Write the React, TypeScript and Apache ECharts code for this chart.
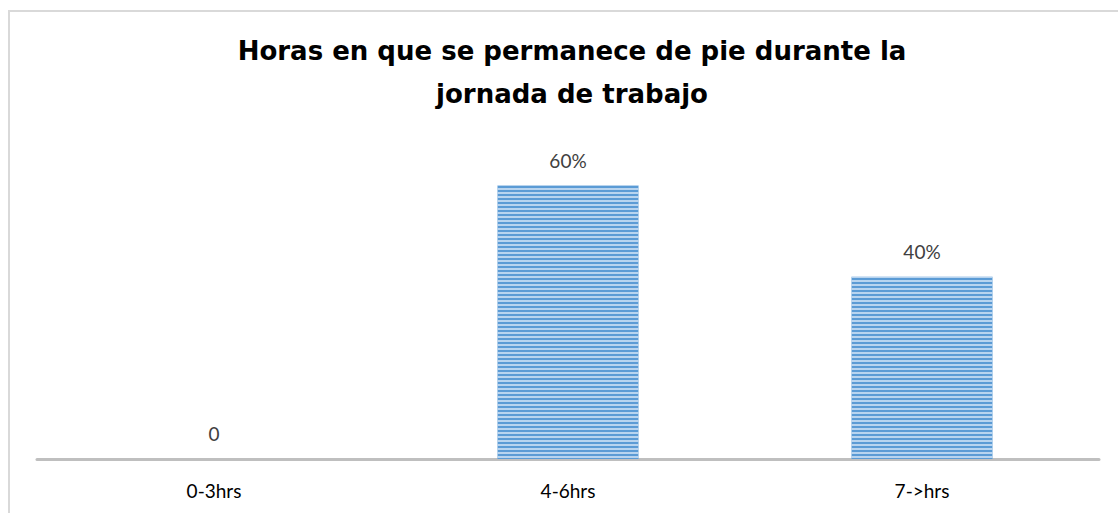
import React, { useEffect, useRef } from "react";
import * as echarts from "echarts";

const categories = ["0-3hrs", "4-6hrs", "7->hrs"];
const values = [0, 60, 40];
const titleText = "Horas en que se permanece de pie durante la\njornada de trabajo";

export default function App() {
  const ref = useRef<HTMLDivElement>(null);
  useEffect(() => {
    if (!ref.current) return;
    const chart = echarts.init(ref.current, undefined, { renderer: "svg" });
    chart.setOption({
      animation: false,
      backgroundColor: "#ffffff",
      title: {
        text: titleText,
        left: 567,
        textAlign: "center",
        top: 24,
        textStyle: {
          fontFamily: "DejaVu Sans",
          fontWeight: "bold",
          fontSize: 26,
          lineHeight: 43,
          color: "#000000",
        },
      },
      graphic: [
        {
          type: "rect",
          shape: { x: 9, y: 11, width: 1200, height: 600 },
          style: { fill: "none", stroke: "#d9d9d9", lineWidth: 2 },
          silent: true,
        },
      ],
      grid: { left: 37, right: 19, top: 140, bottom: 54 },
      xAxis: {
        type: "category",
        data: categories,
        axisLine: { lineStyle: { color: "#bfbfbf", width: 3 } },
        axisTick: { show: false },
        axisLabel: {
          fontFamily: "Lato",
          fontSize: 19,
          color: "#000000",
          margin: 22,
        },
      },
      yAxis: {
        type: "value",
        min: 0,
        max: 70,
        show: false,
        splitLine: { show: false },
      },
      series: [
        {
          type: "bar",
          data: values,
          barWidth: 141,
          itemStyle: {
            color: "#5b9bd5",
            decal: {
              symbol: "rect",
              symbolSize: 1,
              color: "rgba(200,222,244,0.85)",
              dashArrayX: [[1, 0]],
              dashArrayY: [2, 2],
              rotation: 0,
            },
          },
          label: {
            show: true,
            position: "top",
            distance: 16,
            fontFamily: "Lato",
            fontSize: 19,
            color: "#404040",
            formatter: (p: any) => (p.value === 0 ? "0" : p.value + "%"),
          },
        },
      ],
    });
    return () => chart.dispose();
  }, []);
  return (
    <div
      ref={ref}
      style={{ position: "absolute", left: 0, top: 0, width: 1118, height: 513 }}
    />
  );
}
